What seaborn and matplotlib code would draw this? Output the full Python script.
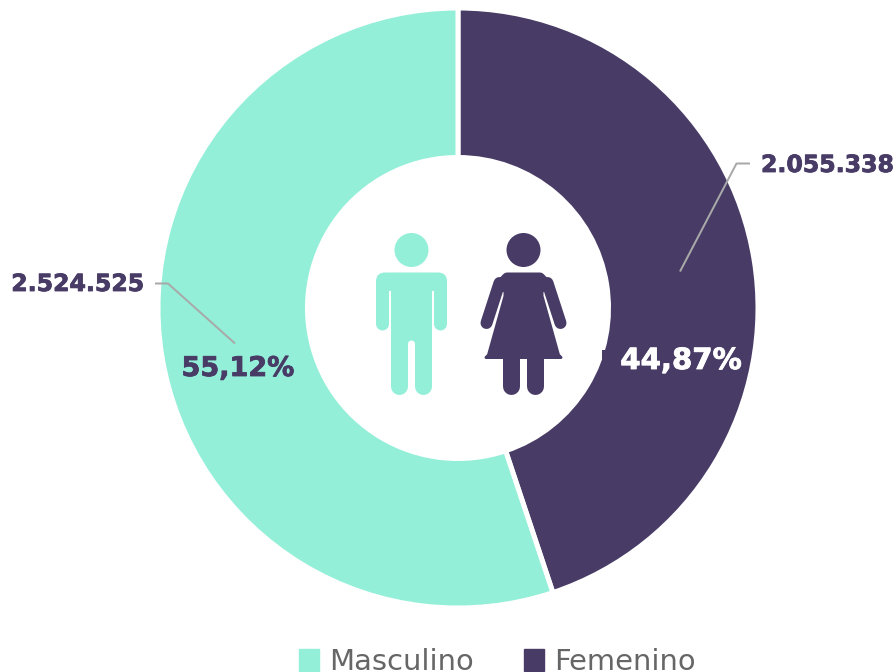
import matplotlib
matplotlib.use("Agg")
import matplotlib.pyplot as plt
import matplotlib.patheffects as pe
from matplotlib.patches import Circle, Patch, Polygon, Rectangle, FancyBboxPatch
import seaborn as sns

# data
categories = ["Femenino", "Masculino"]
values = [2055338, 2524525]
value_labels = ["2.055.338", "2.524.525"]
pct_labels = ["44,87%", "55,12%"]
legend_order = ["Masculino", "Femenino"]

DARK = "#483C66"
TEAL = "#93EFD8"
GREY = "#A9A9A9"
H = 672

sns.set_theme(style="white")
plt.rcParams["font.family"] = ["DejaVu Sans"]
colors = sns.color_palette([DARK, TEAL])

fig = plt.figure(figsize=(8.96, 6.72), dpi=100)
ax = fig.add_axes([0, 0, 1, 1])


def Y(y):
    # picture pixels are counted from the top
    return H - y


def px(w):
    return w * 0.72


# ----------------------------
# DONUT
# ----------------------------
ax.pie(values, colors=colors, startangle=90, counterclock=False,
       center=(458, Y(308)), radius=300, frame=True,
       wedgeprops=dict(width=149.5, edgecolor="white", linewidth=px(5)))
ax.set_xlim(0, 896)
ax.set_ylim(0, H)
ax.set_aspect("equal")
ax.axis("off")

# small box left behind the percent label
ax.add_patch(Rectangle((602, Y(372)), 8, 22, color=DARK, lw=0))

# ----------------------------
# LEADER LINES
# ----------------------------
ax.plot([680, 736.5, 750], [Y(271.5), Y(163.5), Y(163.5)], color=GREY, lw=px(2), solid_capstyle="butt")
ax.plot([155, 168, 235], [Y(283.5), Y(283.5), Y(343.5)], color=GREY, lw=px(2), solid_capstyle="butt")


# ----------------------------
# LABELS
# ----------------------------
def label(x, y, s, color, size, ha):
    t = ax.text(x, Y(y), s, color=color, fontsize=size, fontweight="bold", va="center", ha=ha)
    t.set_path_effects([pe.withStroke(linewidth=0.6, foreground=color)])


label(761, 165, value_labels[0], DARK, 17, "left")
label(144, 284, value_labels[1], DARK, 17, "right")
label(681, 361, pct_labels[0], "white", 21, "center")
label(238, 369, pct_labels[1], DARK, 19.5, "center")


# ----------------------------
# ICONS
# ----------------------------
def limb(x0, y0, x1, y1, width, color):
    ax.plot([x0, x1], [Y(y0), Y(y1)], color=color, lw=px(width), solid_capstyle="round", snap=False)


# man
ax.add_patch(Circle((411.5, Y(250)), 17, color=TEAL, lw=0))
ax.add_patch(FancyBboxPatch((376, Y(291)), 71, 18.5, boxstyle="round,pad=0,rounding_size=9", color=TEAL, lw=0))
ax.add_patch(Rectangle((391, Y(344)), 41, 62, color=TEAL, lw=0))
ax.add_patch(Rectangle((376, Y(291)), 13, 8, color=TEAL, lw=0))
ax.add_patch(Rectangle((434, Y(291)), 13, 8, color=TEAL, lw=0))
limb(382.5, 285, 382.5, 324, 13, TEAL)
limb(440.5, 285, 440.5, 324, 13, TEAL)
limb(399.5, 340, 399.5, 386.5, 17, TEAL)
limb(423.5, 340, 423.5, 386.5, 17, TEAL)
ax.add_patch(Circle((411.5, Y(344)), 3.5, color="white", lw=0))
ax.add_patch(Rectangle((408, Y(360)), 7, 16, color="white", lw=0))

# woman
ax.add_patch(Circle((523.5, Y(250)), 17, color=DARK, lw=0))
ax.add_patch(Polygon([(507, Y(277.5)), (540, Y(277.5)), (549, Y(287)), (498, Y(287))], closed=True,
                     facecolor=DARK, edgecolor=DARK, lw=px(10), joinstyle="round"))
ax.add_patch(Polygon([(505, Y(284)), (542, Y(284)), (542, Y(296)), (558.5, Y(355)), (561, Y(357.5)),
                      (486, Y(357.5)), (488.5, Y(355)), (505, Y(296))],
                     closed=True, facecolor=DARK, edgecolor=DARK, lw=px(3), joinstyle="round"))
limb(499.5, 283, 486.5, 323, 12, DARK)
limb(547.5, 283, 560.5, 323, 12, DARK)
limb(511.5, 355, 511.5, 386.5, 17, DARK)
limb(535.5, 355, 535.5, 386.5, 17, DARK)

# ----------------------------
# LEGEND
# ----------------------------
color_map = dict(zip(categories, colors))
handles = [Patch(color=color_map[c], label=c) for c in legend_order]
ax.legend(handles=handles, loc="lower left", bbox_to_anchor=(299, Y(676)), bbox_transform=ax.transData,
          ncols=2, frameon=False, fontsize=20.9, labelcolor="#666666", borderpad=0, borderaxespad=0,
          handlelength=0.69, handleheight=0.76, handletextpad=0.34, columnspacing=1.75)

fig.savefig("out.png", dpi=100)
